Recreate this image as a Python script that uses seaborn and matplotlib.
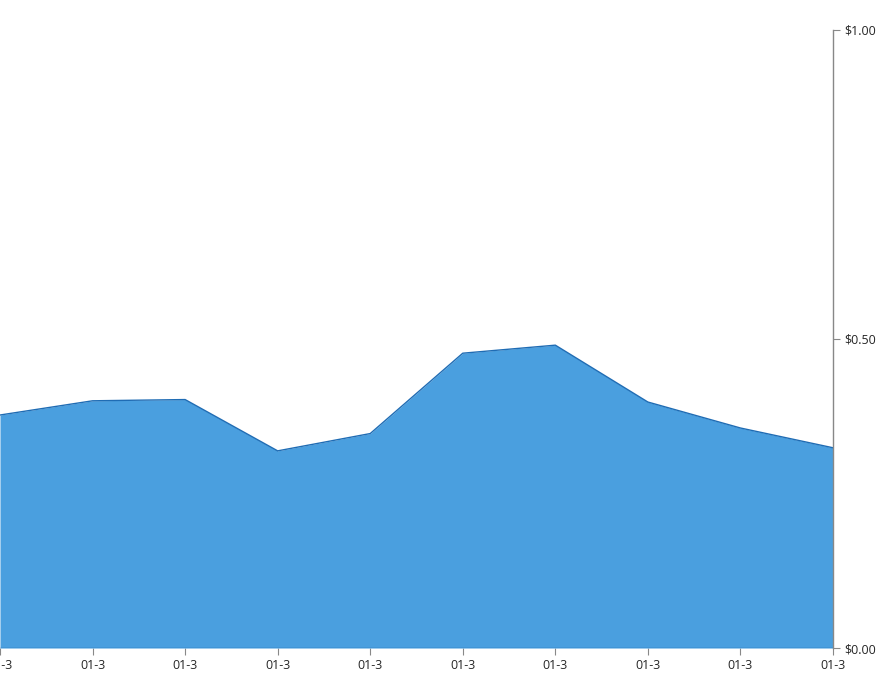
import numpy as np
import pandas as pd
import matplotlib.pyplot as plt
import seaborn as sns

dates = ['01-3'] * 10
prices = [0.377, 0.400, 0.402, 0.319, 0.347, 0.477, 0.490, 0.398, 0.356, 0.324]

df = pd.DataFrame({'idx': np.arange(len(prices)), 'price': prices})

sns.set_style('white')
plt.rcParams['font.family'] = ['Open Sans', 'DejaVu Sans']

fig = plt.figure(figsize=(8.78, 6.8), dpi=100)
ax = fig.add_axes([0, 0.047, 833 / 878, 0.909])

ax.fill_between(df['idx'], df['price'], 0, color='#4a9fdf', linewidth=0)
sns.lineplot(data=df, x='idx', y='price', ax=ax, color='#1f6cb4', linewidth=1)
ax.axhline(0, color='#1f6cb4', linewidth=1)

ax.set_xlim(0, len(prices) - 1)
ax.set_ylim(0, 1)
ax.set_xticks(df['idx'])
ax.set_xticklabels(dates)
ax.set_yticks([0, 0.5, 1.0])
ax.set_yticklabels(['$0.00', '$0.50', '$1.00'])
ax.yaxis.tick_right()
ax.set_xlabel('')
ax.set_ylabel('')

for s in ['top', 'left', 'bottom']:
    ax.spines[s].set_visible(False)
ax.spines['right'].set_color('#888888')
ax.spines['right'].set_linewidth(1)
ax.tick_params(axis='x', direction='out', length=5, color='#888888', labelsize=9, pad=3, bottom=True)
ax.tick_params(axis='y', direction='out', length=5, color='#888888', labelsize=9, pad=3, right=True)

fig.savefig('out.png', dpi=100)
